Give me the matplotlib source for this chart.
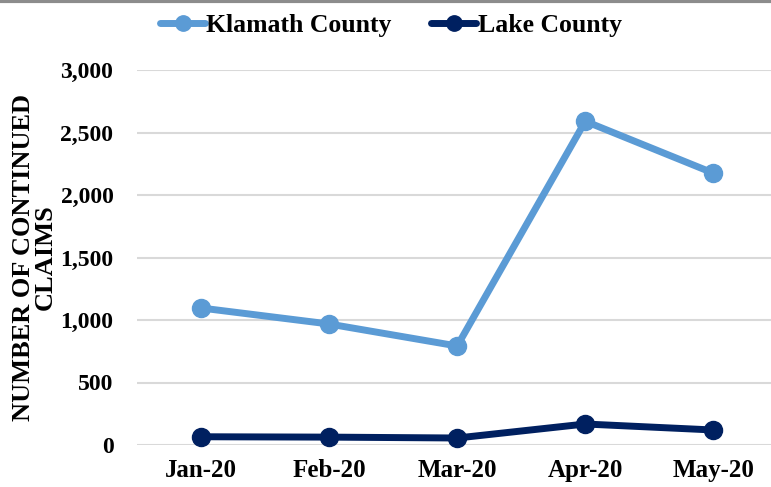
import matplotlib
matplotlib.use("Agg")
import matplotlib.pyplot as plt
from matplotlib.lines import Line2D

months = ["Jan-20", "Feb-20", "Mar-20", "Apr-20", "May-20"]
klamath = [1096, 968, 792, 2590, 2175]
lake = [66, 63, 56, 168, 120]
yticks = [0, 500, 1000, 1500, 2000, 2500, 3000]

plt.rcParams['font.family'] = ['Liberation Serif', 'DejaVu Serif']
plt.rcParams['font.weight'] = 'bold'

fig = plt.figure(figsize=(7.71, 4.87), dpi=100)
ax = fig.add_axes([137/771, (487-445)/487, 1 - 137/771, 375/487])

x = list(range(len(months)))
ax.plot(x, klamath, color='#5b9bd5', lw=5, marker='o', ms=13, label='Klamath County', solid_capstyle='round')
ax.plot(x, lake, color='#002060', lw=5, marker='o', ms=13, label='Lake County', solid_capstyle='round')

ax.set_ylim(0, 3000)
ax.set_xlim(-0.5, 4.45)
ax.set_yticks(yticks)
ax.set_yticklabels([f"{v:,}" for v in yticks], fontsize=17, fontweight='bold')
ax.set_xticks(x)
ax.set_xticklabels(months, fontsize=18, fontweight='bold')
ax.yaxis.grid(True, color='#d9d9d9', lw=1.5)
ax.set_axisbelow(True)
for s in ax.spines.values():
    s.set_visible(False)
ax.tick_params(axis='y', length=0, pad=17)
ax.tick_params(axis='x', length=0, pad=10)
for ln in ax.lines:
    ln.set_clip_on(False)

ax.set_ylabel("NUMBER OF CONTINUED\nCLAIMS", fontsize=19, fontweight='bold', linespacing=0.95)
ax.yaxis.set_label_coords(-0.126, 0.5)

leg = fig.legend(loc='upper center', bbox_to_anchor=(0.507, 1.018), ncol=2, frameon=False,
                 prop={'family': 'Liberation Serif', 'weight': 'bold', 'size': 18.5},
                 handlelength=1.75, handletextpad=0.05, columnspacing=1.55, markerscale=0.85)

fig.add_artist(Line2D([0, 1], [0.997, 0.997], transform=fig.transFigure, color='#8c8c8c', lw=3))

fig.savefig("out.png", dpi=100)
